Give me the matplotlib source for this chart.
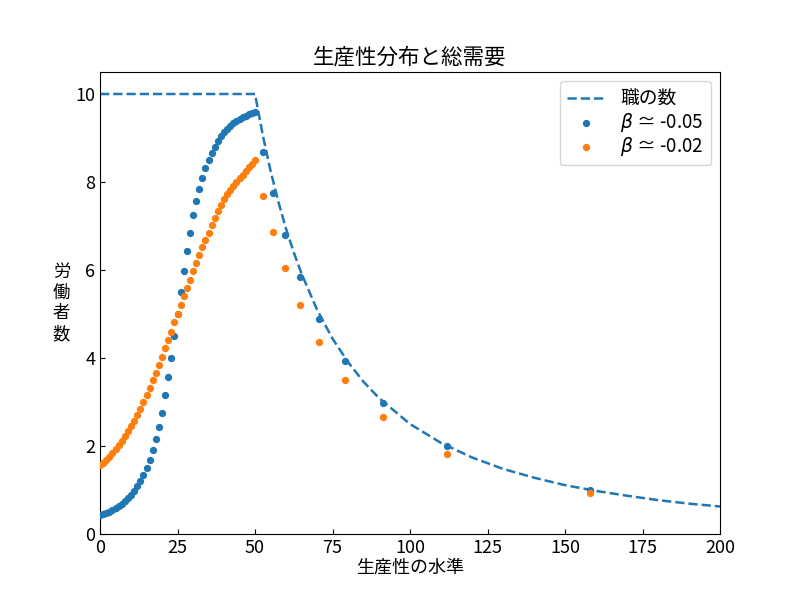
import matplotlib
matplotlib.use("Agg")
import matplotlib.pyplot as plt

plt.rcParams['font.family'] = ['Noto Sans CJK JP', 'DejaVu Sans']
plt.rcParams['axes.unicode_minus'] = False

# number of jobs (dashed line)
job_x = [0, 50, 52.5, 55, 57.5, 60, 62.5, 65, 70, 75, 80, 85, 90, 100, 110, 120,
         130, 140, 150, 160, 170, 180, 190, 200]
job_y = [10, 10, 9.07, 8.26, 7.56, 6.94, 6.40, 5.92, 5.10, 4.44, 3.91, 3.46, 3.09,
         2.50, 2.07, 1.74, 1.48, 1.28, 1.11, 0.98, 0.87, 0.77, 0.69, 0.625]

# worker distribution, x = 0..50 then the sparse tail
low_x = list(range(51))
tail_x = [52.7, 55.9, 59.7, 64.5, 70.8, 79.0, 91.4, 111.9, 158.2]

blue_low = [0.43, 0.45, 0.48, 0.51, 0.55, 0.59, 0.63, 0.68, 0.74, 0.81,
            0.89, 0.98, 1.09, 1.21, 1.35, 1.50, 1.69, 1.90, 2.15, 2.44,
            2.76, 3.15, 3.56, 4.01, 4.50, 5.00, 5.50, 5.98, 6.43, 6.85,
            7.24, 7.56, 7.84, 8.09, 8.31, 8.50, 8.66, 8.80, 8.93, 9.04,
            9.13, 9.21, 9.28, 9.34, 9.39, 9.44, 9.48, 9.51, 9.54, 9.57, 9.59]
blue_tail = [8.68, 7.74, 6.80, 5.85, 4.88, 3.93, 2.97, 1.99, 1.01]

orange_low = [1.56, 1.62, 1.69, 1.76, 1.84, 1.93, 2.02, 2.12, 2.22, 2.33,
              2.45, 2.57, 2.70, 2.84, 2.99, 3.15, 3.32, 3.49, 3.66, 3.83,
              4.02, 4.22, 4.40, 4.60, 4.81, 5.00, 5.21, 5.40, 5.60, 5.78,
              5.98, 6.16, 6.35, 6.52, 6.69, 6.85, 7.02, 7.18, 7.33, 7.48,
              7.62, 7.72, 7.81, 7.90, 7.99, 8.08, 8.17, 8.25, 8.34, 8.42, 8.50]
orange_tail = [7.69, 6.86, 6.04, 5.20, 4.36, 3.51, 2.67, 1.82, 0.94]

fig, ax = plt.subplots(figsize=(8, 6), dpi=100)

ax.plot(job_x, job_y, '--', color='#1f77b4', lw=1.8, label='職の数')
ax.scatter(low_x + tail_x, blue_low + blue_tail, s=18, color='#1f77b4',
           label=r'$\beta$ ≃ -0.05', zorder=3)
ax.scatter(low_x + tail_x, orange_low + orange_tail, s=18, color='#ff7f0e',
           label=r'$\beta$ ≃ -0.02', zorder=3)

ax.set_xlim(0, 200)
ax.set_ylim(0, 10.5)
ax.set_xticks([0, 25, 50, 75, 100, 125, 150, 175, 200])
ax.set_yticks([0, 2, 4, 6, 8, 10])
ax.tick_params(direction='in', labelsize=13)

ax.set_title('生産性分布と総需要', fontsize=15.5)
ax.set_xlabel('生産性の水準', fontsize=13, labelpad=1)
ax.set_ylabel('労\n働\n者\n数', rotation=0, fontsize=12.5, va='center', labelpad=10)
ax.legend(loc='upper right', fontsize=13.5, labelspacing=0.05)

fig.savefig('out.png')
